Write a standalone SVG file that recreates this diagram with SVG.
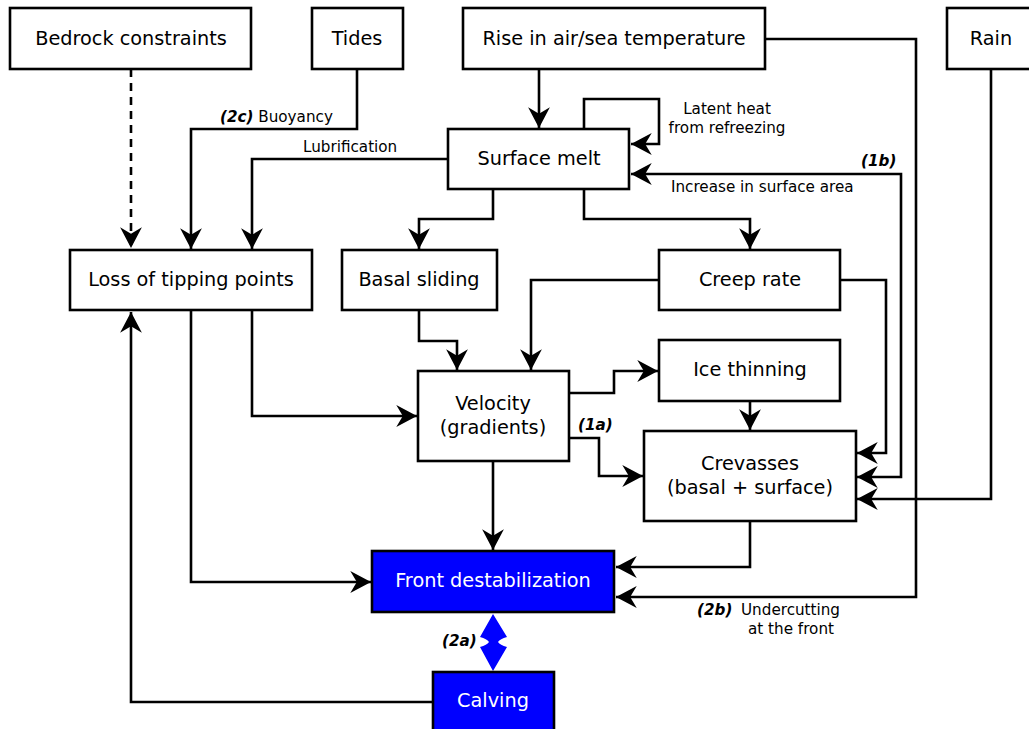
<svg xmlns="http://www.w3.org/2000/svg" width="1029" height="729" viewBox="0 0 1029 729">
<defs>
<style>
.box{fill:#fff;stroke:#000;stroke-width:2.6}
.blue{fill:#0000ff;stroke:#000;stroke-width:2.6}
.t{font-family:"DejaVu Sans",sans-serif;font-size:19.3px;text-anchor:middle;fill:#000}
.tw{font-family:"DejaVu Sans",sans-serif;font-size:19.3px;text-anchor:middle;fill:#fff}
.s{font-family:"DejaVu Sans",sans-serif;font-size:15.2px;fill:#000}
.b{font-weight:bold;font-style:italic}
.c{fill:none;stroke:#000;stroke-width:2.6}
</style>
<marker id="a" markerUnits="userSpaceOnUse" markerWidth="24" markerHeight="24" viewBox="-20 -11 22 22" refX="0" refY="0" orient="auto-start-reverse" overflow="visible">
<path d="M0,0 L-19,-10 L-13,0 L-19,10 Z" fill="#000"/>
</marker>
</defs>
<rect width="1029" height="729" fill="#fff"/>

<g id="connectors">
<path class="c" d="M131,69 V248" stroke-dasharray="8,6" marker-end="url(#a)"/>
<path class="c" d="M357,69 V129 H191 V249" marker-end="url(#a)"/>
<path class="c" d="M448,159 H252 V249" marker-end="url(#a)"/>
<path class="c" d="M539,69 V128" marker-end="url(#a)"/>
<path class="c" d="M584,129 V99 H659 V144 H631" marker-end="url(#a)"/>
<path class="c" d="M765,39 H916 V597 H616" marker-end="url(#a)"/>
<path class="c" d="M631,174 H901 V477 H857" marker-start="url(#a)" marker-end="url(#a)"/>
<path class="c" d="M991,69 V499 H857" marker-end="url(#a)"/>
<path class="c" d="M840,280 H886 V453 H857" marker-end="url(#a)"/>
<path class="c" d="M493,189 V219 H419 V249" marker-end="url(#a)"/>
<path class="c" d="M584,189 V219 H750 V249" marker-end="url(#a)"/>
<path class="c" d="M659,280 H531 V370" marker-end="url(#a)"/>
<path class="c" d="M419,310 V341 H457 V370" marker-end="url(#a)"/>
<path class="c" d="M252,310 V416 H417" marker-end="url(#a)"/>
<path class="c" d="M191,310 V582 H371" marker-end="url(#a)"/>
<path class="c" d="M569,393 H614 V371 H658" marker-end="url(#a)"/>
<path class="c" d="M569,438 H599 V476 H643" marker-end="url(#a)"/>
<path class="c" d="M750,401 V430" marker-end="url(#a)"/>
<path class="c" d="M493,461 V550" marker-end="url(#a)"/>
<path class="c" d="M750,521 V567 H616" marker-end="url(#a)"/>
<path class="c" d="M433,702 H131 V312" marker-end="url(#a)"/>
<path d="M493,614 L507,637 Q500,639 498,642 Q500,645 507,647 L493,671 L480,647 Q487,645 489,642 Q487,639 480,637 Z" fill="#0000ff"/>
</g>

<g id="labels">
<text class="s" x="220" y="122"><tspan class="b">(2c)</tspan> Buoyancy</text>
<text class="s" x="303" y="152">Lubrification</text>
<text class="s" x="727" y="114" text-anchor="middle">Latent heat</text>
<text class="s" x="727" y="133" text-anchor="middle">from refreezing</text>
<text class="s b" x="861" y="166">(1b)</text>
<text class="s" x="671" y="192">Increase in surface area</text>
<text class="s b" x="578" y="430">(1a)</text>
<text class="s" x="697" y="615"><tspan class="b">(2b)</tspan><tspan x="741">Undercutting</tspan></text>
<text class="s" x="791" y="634" text-anchor="middle">at the front</text>
<text class="s b" x="442" y="646">(2a)</text>
</g>

<g id="bedrock"><rect class="box" x="10" y="8" width="241" height="61"/><text class="t" x="131" y="45">Bedrock constraints</text></g>
<g id="tides"><rect class="box" x="312" y="8" width="91" height="61"/><text class="t" x="357" y="45">Tides</text></g>
<g id="temp"><rect class="box" x="463" y="8" width="302" height="61"/><text class="t" x="614" y="45">Rise in air/sea temperature</text></g>
<g id="rain"><rect class="box" x="947" y="8" width="90" height="61"/><text class="t" x="991" y="45">Rain</text></g>
<g id="surface-melt"><rect class="box" x="448" y="129" width="181" height="60"/><text class="t" x="539" y="165">Surface melt</text></g>
<g id="loss"><rect class="box" x="70" y="250" width="242" height="60"/><text class="t" x="191" y="286">Loss of tipping points</text></g>
<g id="basal"><rect class="box" x="342" y="250" width="155" height="60"/><text class="t" x="419" y="286">Basal sliding</text></g>
<g id="creep"><rect class="box" x="659" y="250" width="181" height="60"/><text class="t" x="750" y="286">Creep rate</text></g>
<g id="thinning"><rect class="box" x="659" y="340" width="181" height="61"/><text class="t" x="750" y="376">Ice thinning</text></g>
<g id="velocity"><rect class="box" x="418" y="371" width="151" height="90"/><text class="t" x="493" y="410">Velocity</text><text class="t" x="493" y="434">(gradients)</text></g>
<g id="crevasses"><rect class="box" x="644" y="431" width="212" height="90"/><text class="t" x="750" y="470">Crevasses</text><text class="t" x="750" y="494">(basal + surface)</text></g>
<g id="front"><rect class="blue" x="372" y="551" width="242" height="61"/><text class="tw" x="493" y="587">Front destabilization</text></g>
<g id="calving"><rect class="blue" x="433" y="672" width="121" height="70"/><text class="tw" x="493" y="707">Calving</text></g>
</svg>
